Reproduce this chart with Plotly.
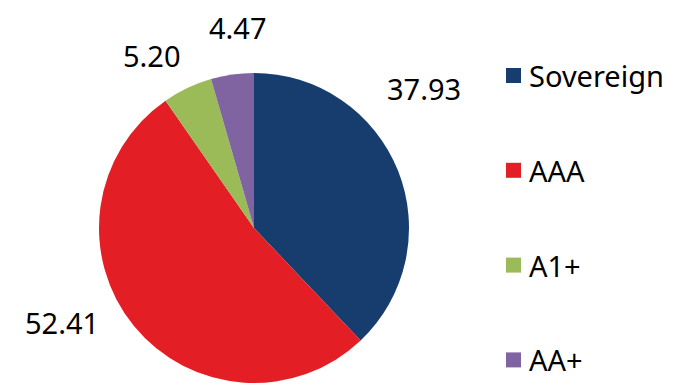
import plotly.graph_objects as go

categories = ["Sovereign", "AAA", "A1+", "AA+"]
values = [37.93, 52.41, 5.20, 4.47]
colors = ["#173D6F", "#E31E25", "#9BBB59", "#8064A2"]

W, H = 681, 387
FONT = "Noto Sans"
FS = 29

fig = go.Figure()
fig.add_trace(go.Pie(
    labels=categories,
    values=values,
    sort=False,
    direction="clockwise",
    rotation=0,
    marker=dict(colors=colors, line=dict(width=0)),
    textinfo="none",
    hoverinfo="label+value",
    showlegend=False,
    domain=dict(x=[99 / W, 409 / W], y=[4 / H, 314 / H]),
))

# data label placement (layout, pixel anchors of each label centre)
label_pos = [(424, 88), (62, 322), (152, 55), (238, 28)]
annotations = []
for v, (px, py) in zip(values, label_pos):
    annotations.append(dict(
        x=px / W, y=1 - py / H, xref="paper", yref="paper",
        text=f"{v:.2f}", showarrow=False, xanchor="center", yanchor="middle",
        font=dict(family=FONT, size=FS, color="#000000"),
    ))

# manual legend
shapes = []
leg_y0, leg_step = 75.5, 94.8
for i, (cat, col) in enumerate(zip(categories, colors)):
    cy = leg_y0 + i * leg_step
    shapes.append(dict(
        type="rect", xref="paper", yref="paper",
        x0=506 / W, x1=521 / W, y0=1 - (cy - 7.5) / H, y1=1 - (cy + 7.5) / H,
        fillcolor=col, line=dict(width=0),
    ))
    annotations.append(dict(
        x=527 / W, y=1 - cy / H, xref="paper", yref="paper",
        text=cat, showarrow=False, xanchor="left", yanchor="middle",
        font=dict(family=FONT, size=FS, color="#000000"),
    ))

fig.update_layout(
    width=W, height=H,
    margin=dict(l=0, r=0, t=0, b=0),
    paper_bgcolor="white", plot_bgcolor="white",
    annotations=annotations, shapes=shapes,
    font=dict(family=FONT),
)

fig.write_html("out.html",
               config={"displayModeBar": False},
               post_script="document.body.style.margin='0';document.body.style.overflow='hidden';")
